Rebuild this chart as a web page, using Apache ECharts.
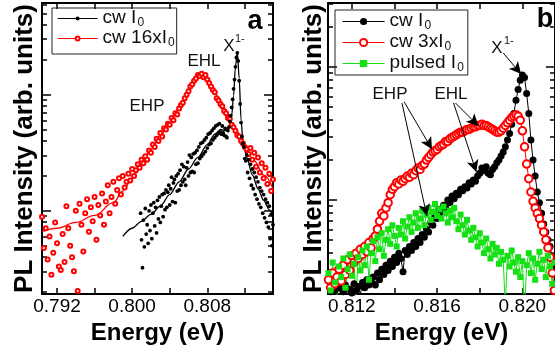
<!DOCTYPE html>
<html><head><meta charset="utf-8">
<script src="https://cdn.jsdelivr.net/npm/echarts@6/dist/echarts.min.js"></script>
<style>html,body{margin:0;padding:0;background:#fff}#c{width:555px;height:353px}</style>
</head><body><div id="c"></div>
<script>
// ---------- Panel a data (energy in eV, intensity as log10 of arb. units) ----------
const aCwE0 = 0.8009, aCwStep = 0.0001;
const aCwLogI = [-0.02,-0.25,-0.49,-0.08,-0.31,0.02,-0.20,-0.12,-0.28,0.00,
 -0.17,0.05,-0.24,-0.02,0.07,-0.13,0.03,-0.19,0.09,-0.07,
 0.12,-0.10,0.04,0.14,-0.05,0.15,0.01,0.18,0.03,0.16,
 0.22,0.05,0.19,0.29,0.08,0.24,0.27,0.07,0.30,0.17,
 0.32,0.18,0.35,0.22,0.40,0.25,0.38,0.27,0.22,0.37,
 0.42,0.30,0.48,0.33,0.46,0.34,0.49,0.33,0.50,0.40,
 0.52,0.41,0.55,0.45,0.58,0.47,0.59,0.49,0.61,0.51,
 0.63,0.54,0.66,0.57,0.67,0.58,0.69,0.61,0.71,0.63,
 0.73,0.65,0.74,0.67,0.75,0.68,0.66,0.73,0.67,0.65,
 0.71,0.64,0.63,0.69,0.72,0.77,0.82,0.89,0.96,1.05,
 1.13,1.24,1.32,1.36,1.29,1.12,0.92,0.76,0.64,0.58,
 0.55,0.45,0.43,0.48,0.33,0.44,0.28,0.40,0.22,0.36,
 0.19,0.33,0.14,0.29,0.10,0.25,0.06,0.20,0.03,0.17,
 -0.02,0.14,-0.06,0.10,-0.10,0.07,-0.14,0.04,-0.24,-0.03,
 -0.30,-0.12];
const a16E0 = 0.7904, a16Step = 0.0002;
const a16LogI = [-0.05,-0.32,-0.15,-0.42,-0.22,-0.55,-0.36,-0.10,-0.28,-0.48,
 -0.51,-0.20,-0.44,0.04,-0.15,-0.30,-0.40,-0.52,0.00,-0.69,
 0.06,-0.12,-0.35,-0.02,0.10,-0.18,0.03,-0.09,0.12,-0.25,
 0.05,-0.04,0.15,-0.12,0.08,0.22,-0.02,0.12,0.25,0.06,
 0.18,0.28,0.14,0.30,0.20,0.25,0.32,0.26,0.36,0.30,
 0.35,0.40,0.37,0.44,0.41,0.47,0.44,0.52,0.50,0.57,
 0.55,0.62,0.60,0.67,0.64,0.71,0.70,0.75,0.74,0.80,
 0.78,0.84,0.83,0.88,0.91,0.93,0.97,1.00,1.03,1.07,
 1.09,1.12,1.14,1.17,1.16,1.18,1.15,1.17,1.13,1.10,
 1.07,1.04,1.02,0.97,0.95,0.92,0.90,0.86,0.84,0.80,
 0.79,0.74,0.72,0.69,0.65,0.64,0.60,0.58,0.55,0.53,
 0.49,0.54,0.44,0.50,0.38,0.46,0.33,0.41,0.28,0.37,
 0.23,0.32,0.17,0.27];
const aCwFitE = [0.7990,0.8000,0.8010,0.8020,0.8030,0.8040,0.8050,0.8060,0.8070,0.8080,0.8088,0.8094,0.8100,0.8104,0.8106,0.8108,0.8110,0.8112,0.8114,0.8116,0.8118,0.8122,0.8128,0.8134,0.8140,0.8146,0.8150];
const aCwFitLogI = [-0.22,-0.15,-0.09,-0.03,0.04,0.14,0.25,0.36,0.46,0.57,0.66,0.70,0.69,0.72,0.82,0.99,1.24,1.37,1.14,0.78,0.60,0.46,0.31,0.19,0.09,0.01,-0.04];
const a16FitE = [0.7904,0.7920,0.7940,0.7960,0.7980,0.7990,0.8000,0.8010,0.8020,0.8030,0.8040,0.8050,0.8060,0.8066,0.8072,0.8077,0.8082,0.8088,0.8094,0.8100,0.8110,0.8120,0.8130,0.8140,0.8150];
const a16FitLogI = [-0.18,-0.15,-0.10,-0.04,0.07,0.17,0.28,0.40,0.53,0.65,0.76,0.88,1.02,1.11,1.17,1.17,1.11,1.02,0.93,0.85,0.70,0.55,0.43,0.31,0.19];

// ---------- Panel b data ----------
const bE0 = 0.8109, bStep = 0.0001;
const bCwLogI = [-0.72,-0.69,-0.74,-0.68,-0.71,-0.66,-0.73,-0.69,-0.64,-0.72,
 -0.67,-0.70,-0.63,-0.68,-0.65,-0.71,-0.62,-0.66,-0.60,-0.64,
 -0.62,-0.58,-0.64,-0.55,-0.60,-0.52,-0.56,-0.49,-0.53,-0.46,
 -0.50,-0.43,-0.47,-0.40,-0.44,-0.54,-0.38,-0.41,-0.35,-0.38,
 -0.32,-0.35,-0.29,-0.32,-0.26,-0.28,-0.22,-0.24,-0.17,-0.19,
 -0.12,-0.14,-0.07,-0.09,-0.04,-0.06,0.00,-0.02,0.03,0.01,
 0.05,0.04,0.08,0.07,0.10,0.09,0.13,0.12,0.15,0.14,
 0.18,0.20,0.24,0.22,0.25,0.20,0.19,0.23,0.25,0.28,
 0.30,0.33,0.36,0.40,0.45,0.50,0.57,0.65,0.75,0.83,
 0.90,0.94,0.92,0.80,0.65,0.45,0.30,0.18,0.06,-0.02,
 -0.10,-0.18,-0.24,-0.30,-0.35,-0.44,-0.52];
const b3xLogI = [-0.60,-0.66,-0.55,-0.63,-0.58,-0.52,-0.61,-0.49,-0.56,-0.45,
 -0.53,-0.42,-0.47,-0.40,-0.44,-0.37,-0.41,-0.35,-0.39,-0.32,
 -0.36,-0.29,-0.27,-0.22,-0.16,-0.10,-0.12,-0.06,-0.02,0.04,
 0.08,0.10,0.13,0.12,0.15,0.14,0.16,0.18,0.17,0.20,
 0.19,0.22,0.24,0.23,0.26,0.27,0.30,0.32,0.34,0.36,
 0.37,0.38,0.40,0.41,0.42,0.44,0.44,0.46,0.47,0.48,
 0.49,0.50,0.51,0.51,0.52,0.53,0.53,0.54,0.55,0.55,
 0.56,0.56,0.57,0.56,0.56,0.55,0.54,0.53,0.52,0.51,
 0.51,0.52,0.54,0.56,0.58,0.60,0.62,0.63,0.64,0.63,
 0.60,0.52,0.40,0.27,0.16,0.06,-0.01,-0.06,-0.10,-0.14,
 -0.19,-0.24,-0.30,-0.36,-0.43,-0.55,-0.68];
const bPulsedLogI = [-0.55,-0.68,-0.47,-0.62,-0.75,-0.50,-0.58,-0.44,-0.66,-0.52,
 -0.41,-0.57,-0.48,-0.72,-0.43,-0.53,-0.38,-0.49,-0.35,-0.60,
 -0.40,-0.31,-0.46,-0.28,-0.37,-0.25,-0.42,-0.30,-0.22,-0.33,
 -0.19,-0.27,-0.35,-0.21,-0.26,-0.16,-0.29,-0.20,-0.13,-0.24,
 -0.17,-0.10,-0.21,-0.14,-0.08,-0.19,-0.11,-0.06,-0.15,-0.09,
 -0.03,-0.12,-0.07,-0.14,-0.05,-0.10,-0.17,-0.08,-0.13,-0.06,
 -0.16,-0.22,-0.11,-0.19,-0.26,-0.15,-0.23,-0.30,-0.21,-0.28,
 -0.35,-0.25,-0.32,-0.40,-0.29,-0.37,-0.44,-0.33,-0.41,-0.36,
 -0.48,-0.39,-0.45,-0.80,-0.42,-0.50,-0.38,-0.47,-0.54,-0.43,
 -0.58,-0.46,-0.85,-0.49,-0.40,-0.55,-0.44,-0.60,-0.48,-0.39,
 -0.52,-0.45,-0.58,-0.42,-0.50,-0.63,-0.47];

// ---------- Ticks ----------
const aXLabels = [0.792, 0.800, 0.808];
const aXTicks = [0.792, 0.796, 0.800, 0.804, 0.808, 0.812];
const bXLabels = [0.812, 0.816, 0.820];
const bXTicks = [0.812, 0.814, 0.816, 0.818, 0.820];
const yDecades = [0.1, 1, 10];
const yMinorFactors = [2, 3, 4, 5, 6, 7, 8, 9];
const yMajorLog = yDecades.map(d => Math.log10(d));
const yMinorLog = [];
yDecades.forEach(d => yMinorFactors.forEach(f => yMinorLog.push(Math.log10(d * f))));

const aRange = {xmin: 0.7904, xmax: 0.8150, ymin: -0.716, ymax: 1.789};
const bRange = {xmin: 0.81088, xmax: 0.82153, ymin: -0.707, ymax: 1.481};

const FONT = '"Liberation Sans", Arial, Helvetica, sans-serif';
const toPairs = (e0, step, vals) => vals.map((v, i) => [+(e0 + i * step).toFixed(5), v]);
const zip = (xs, ys) => xs.map((x, i) => [x, ys[i]]);

function xAxes(gi, r, ticks, labels, name) {
  const base = {
    type: 'value', gridIndex: gi, min: r.xmin, max: r.xmax,
    axisLine: {show: true, onZero: false, lineStyle: {color: '#000', width: 2}},
    axisTick: {show: true, inside: true, length: 6, customValues: ticks, lineStyle: {color: '#000', width: 1.5}},
    splitLine: {show: false}
  };
  return [
    Object.assign({}, base, {
      position: 'bottom',
      axisLabel: {show: true, customValues: labels, formatter: v => v.toFixed(3), margin: 3,
                  color: '#000', fontSize: 19, fontFamily: FONT},
      name: name, nameLocation: 'middle', nameGap: 22,
      nameTextStyle: {fontSize: 24, fontWeight: 'bold', color: '#000', fontFamily: FONT}
    }),
    Object.assign({}, base, {position: 'top', axisLabel: {show: false}})
  ];
}
function yAxes(gi, r, nameGap) {
  const mk = (pos, vals, len, line, extra) => Object.assign({
    type: 'value', gridIndex: gi, min: r.ymin, max: r.ymax, position: pos,
    axisLine: {show: line, onZero: false, lineStyle: {color: '#000', width: 2}},
    axisTick: {show: true, inside: true, length: len, customValues: vals, lineStyle: {color: '#000', width: 1.5}},
    axisLabel: {show: false}, splitLine: {show: false}
  }, extra || {});
  return [
    mk('left', yMajorLog, 9, true, {name: 'PL Intensity (arb. units)', nameLocation: 'middle', nameGap: nameGap,
       nameTextStyle: {fontSize: 26, fontWeight: 'bold', color: '#000', fontFamily: FONT}}),
    mk('left', yMinorLog, 5, false),
    mk('right', yMajorLog, 9, true),
    mk('right', yMinorLog, 5, false)
  ];
}

const RED = '#ff0000', GREEN = '#14e014';
const legendLabels = {
  'a: cw I0': '{n|cw I}{s|0}',
  'a: cw 16xI0': '{n|cw 16xI}{s|0}',
  'b: cw I0': '{n|cw I}{s|0}',
  'b: cw 3xI0': '{n|cw 3xI}{s|0}',
  'b: pulsed I0': '{n|pulsed I}{s|0}'
};
const legendRich = {
  n: {fontSize: 19, fontFamily: FONT, color: '#111', lineHeight: 21, verticalAlign: 'top'},
  s: {fontSize: 12, fontFamily: FONT, color: '#111', lineHeight: 12, verticalAlign: 'bottom', padding: [9, 0, 0, 1]}
};

const arrowB = [
  [[0.81910, 1.105], [0.81994, 0.947]],
  [[0.81445, 0.739], [0.81576, 0.381]],
  [[0.81435, 0.729], [0.81552, -0.120]],
  [[0.81686, 0.729], [0.81794, 0.556]],
  [[0.81677, 0.729], [0.81784, 0.210]]
];

const option = {
  animation: false,
  backgroundColor: '#fff',
  grid: [
    {left: 42, top: 3, width: 231, height: 291},
    {left: 328, top: 3, width: 229, height: 291}
  ],
  xAxis: [].concat(xAxes(0, aRange, aXTicks, aXLabels, 'Energy (eV)'), xAxes(1, bRange, bXTicks, bXLabels, 'Energy (eV)')),
  yAxis: [].concat(yAxes(0, aRange, 4), yAxes(1, bRange, 1)),
  legend: [
    {
      left: 52, top: 8, orient: 'vertical', selectedMode: false,
      padding: [0, 2, 5, 5], itemGap: -1, itemWidth: 40, itemHeight: 5,
      borderColor: '#222', borderWidth: 1,
      data: [
        {name: 'a: cw I0', lineStyle: {width: 1.2, color: '#000', opacity: 1}},
        {name: 'a: cw 16xI0', lineStyle: {width: 1.2, color: RED, opacity: 1}}
      ],
      formatter: n => legendLabels[n],
      textStyle: {rich: legendRich}
    },
    {
      left: 335, top: 10, orient: 'vertical', selectedMode: false,
      padding: [1, 4, 1, 7], itemGap: 0, itemWidth: 42, itemHeight: 9,
      borderColor: '#222', borderWidth: 1,
      data: [
        {name: 'b: cw I0', lineStyle: {width: 1.2, color: '#000', opacity: 1}},
        {name: 'b: cw 3xI0', lineStyle: {width: 1.2, color: RED, opacity: 1}},
        {name: 'b: pulsed I0', lineStyle: {width: 1.2, color: GREEN, opacity: 1}}
      ],
      formatter: n => legendLabels[n],
      textStyle: {rich: legendRich}
    }
  ],
  series: [
    {
      name: 'a: cw 16xI0', type: 'line', xAxisIndex: 0, yAxisIndex: 0,
      data: toPairs(a16E0, a16Step, a16LogI), showAllSymbol: true,
      symbol: 'emptyCircle', symbolSize: 4,
      itemStyle: {color: RED, borderWidth: 1}, lineStyle: {width: 0}
    },
    {
      name: 'a: fit 16xI0', type: 'line', xAxisIndex: 0, yAxisIndex: 0,
      data: zip(a16FitE, a16FitLogI), symbol: 'none', smooth: 0.4, smoothMonotone: 'x',
      lineStyle: {color: RED, width: 1.3}, itemStyle: {color: RED}
    },
    {
      name: 'a: cw I0', type: 'line', xAxisIndex: 0, yAxisIndex: 0,
      data: toPairs(aCwE0, aCwStep, aCwLogI), showAllSymbol: true,
      symbol: 'circle', symbolSize: 3.8,
      itemStyle: {color: '#000'}, lineStyle: {width: 0}
    },
    {
      name: 'a: fit I0', type: 'line', xAxisIndex: 0, yAxisIndex: 0,
      data: zip(aCwFitE, aCwFitLogI), symbol: 'none', smooth: 0.3, smoothMonotone: 'x',
      lineStyle: {color: '#000', width: 1.3}, itemStyle: {color: '#000'}
    },
    {
      name: 'b: cw I0', type: 'line', xAxisIndex: 2, yAxisIndex: 4,
      data: toPairs(bE0, bStep, bCwLogI), showAllSymbol: true,
      symbol: 'circle', symbolSize: 7,
      itemStyle: {color: '#000'}, lineStyle: {color: '#000', width: 1}
    },
    {
      name: 'b: cw 3xI0', type: 'line', xAxisIndex: 2, yAxisIndex: 4,
      data: toPairs(bE0, bStep, b3xLogI), showAllSymbol: true,
      symbol: 'emptyCircle', symbolSize: 7.5,
      itemStyle: {color: RED, borderWidth: 1.2}, lineStyle: {color: RED, width: 1}
    },
    {
      name: 'b: pulsed I0', type: 'line', xAxisIndex: 2, yAxisIndex: 4,
      data: toPairs(bE0, bStep, bPulsedLogI), showAllSymbol: true,
      symbol: 'rect', symbolSize: 6,
      itemStyle: {color: GREEN}, lineStyle: {color: GREEN, width: 1},
      markLine: {
        silent: true, symbol: ['none', 'arrow'], symbolSize: [9, 12], animation: false,
        lineStyle: {color: '#000', width: 1, type: 'solid'}, itemStyle: {color: '#000'},
        label: {show: false}, emphasis: {disabled: true},
        data: arrowB.map(p => [{coord: p[0]}, {coord: p[1]}])
      }
    }
  ],
  graphic: [
    {type: 'text', x: 204, y: 61, style: {text: 'EHL', fontSize: 17, fontFamily: FONT, fill: '#111', align: 'center', verticalAlign: 'middle'}},
    {type: 'text', x: 147, y: 106, style: {text: 'EHP', fontSize: 17, fontFamily: FONT, fill: '#111', align: 'center', verticalAlign: 'middle'}},
    {type: 'text', x: 229, y: 46, style: {text: 'X', fontSize: 17, fontFamily: FONT, fill: '#111', align: 'center', verticalAlign: 'middle'}},
    {type: 'text', x: 235, y: 39, style: {text: '1-', fontSize: 11, fontFamily: FONT, fill: '#111', align: 'left', verticalAlign: 'middle'}},
    {type: 'text', x: 255, y: 22, style: {text: 'a', fontSize: 27, fontWeight: 'bold', fontFamily: FONT, fill: '#000', align: 'center', verticalAlign: 'middle'}},
    {type: 'text', x: 497, y: 48, style: {text: 'X', fontSize: 17, fontFamily: FONT, fill: '#111', align: 'center', verticalAlign: 'middle'}},
    {type: 'text', x: 504, y: 41, style: {text: '1-', fontSize: 11, fontFamily: FONT, fill: '#111', align: 'left', verticalAlign: 'middle'}},
    {type: 'text', x: 390, y: 94, style: {text: 'EHP', fontSize: 17, fontFamily: FONT, fill: '#111', align: 'center', verticalAlign: 'middle'}},
    {type: 'text', x: 451, y: 94, style: {text: 'EHL', fontSize: 17, fontFamily: FONT, fill: '#111', align: 'center', verticalAlign: 'middle'}},
    {type: 'text', x: 545, y: 20, style: {text: 'b', fontSize: 27, fontWeight: 'bold', fontFamily: FONT, fill: '#000', align: 'center', verticalAlign: 'middle'}}
  ]
};
const chart = echarts.init(document.getElementById('c'), null, {renderer: 'canvas'});
chart.setOption(option);
</script>
</body></html>
